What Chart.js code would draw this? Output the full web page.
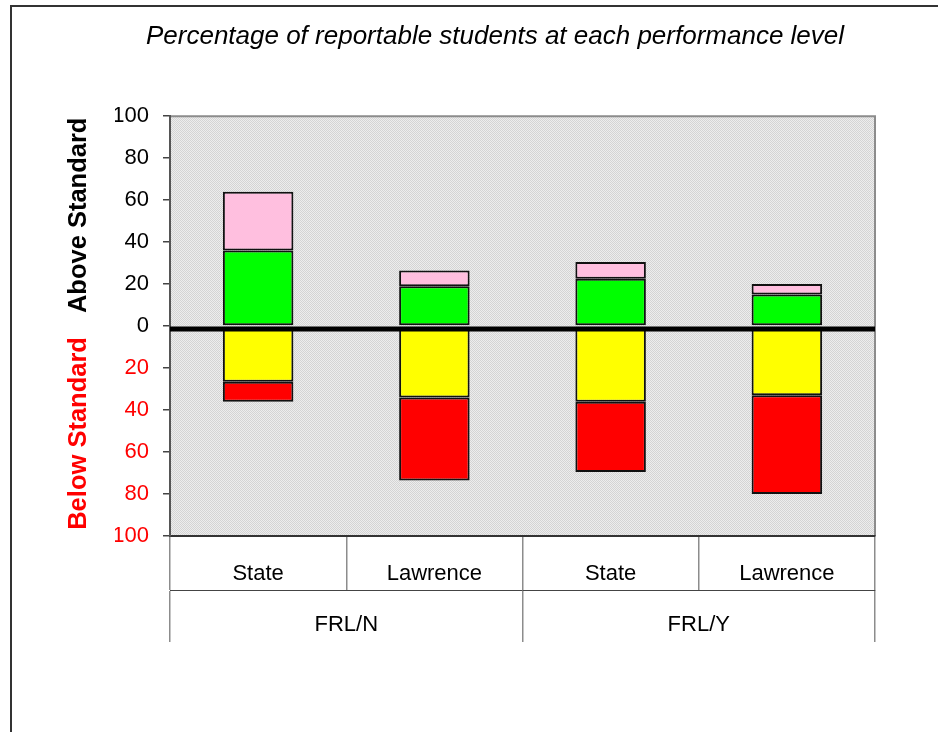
<!DOCTYPE html>
<html>
<head>
<meta charset="utf-8">
<script src="https://cdn.jsdelivr.net/npm/chart.js@4"></script>
<style>
  body { margin: 0; background: #fff; overflow: hidden; }
  #wrap { position: relative; width: 938px; height: 732px; }
  #frame { position: absolute; left: 10px; top: 5px; width: 960px; height: 760px; border: 2px solid #333; box-sizing: border-box; }
  canvas { position: absolute; left: 0; top: 0; }
</style>
</head>
<body>
<div id="wrap">
  <div id="frame"></div>
  <canvas id="chart" width="938" height="732"></canvas>
</div>
<script>
const categories = ['State', 'Lawrence', 'State', 'Lawrence'];
const groups = ['FRL/N', 'FRL/Y'];

// above standard (positive)
const proficient = [36, 19, 22.5, 15];
const advanced = [28, 7.5, 8, 5];
// below standard (negative)
const basic = [-26.5, -34, -36, -33];
const belowBasic = [-9.5, -39.5, -33.5, -47];

const FONT = '"Liberation Sans", Arial, sans-serif';

function makePattern(ctx) {
  const c = document.createElement('canvas');
  c.width = 2; c.height = 2;
  const p = c.getContext('2d');
  p.fillStyle = '#ededed';
  p.fillRect(0, 0, 2, 2);
  p.fillStyle = '#d4d4d4';
  p.fillRect(0, 0, 1, 1);
  p.fillRect(1, 1, 1, 1);
  return ctx.createPattern(c, 'repeat');
}

const plotArea = {
  id: 'plotArea',
  beforeDraw(chart) {
    const { ctx, chartArea: a } = chart;
    ctx.save();
    ctx.fillStyle = makePattern(ctx);
    ctx.fillRect(a.left, a.top, a.right - a.left, a.bottom - a.top);
    ctx.strokeStyle = '#8c8c8c';
    ctx.lineWidth = 2;
    ctx.beginPath();
    ctx.moveTo(a.left, a.top);
    ctx.lineTo(a.right, a.top);
    ctx.lineTo(a.right, a.bottom);
    ctx.stroke();
    ctx.restore();
  },
  afterDatasetsDraw(chart) {
    const { ctx, chartArea: a, scales } = chart;
    const y0 = scales.y.getPixelForValue(0) + 3;
    ctx.save();
    ctx.strokeStyle = '#000';
    ctx.lineWidth = 5;
    ctx.beginPath();
    ctx.moveTo(a.left, y0);
    ctx.lineTo(a.right, y0);
    ctx.stroke();
    ctx.restore();
  },
  afterDraw(chart) {
    // two-colour y axis title, split at zero
    const { ctx, scales } = chart;
    const y0 = scales.y.getPixelForValue(0);
    ctx.save();
    ctx.font = 'bold 25.5px ' + FONT;
    ctx.textBaseline = 'middle';
    ctx.translate(79, y0);
    ctx.rotate(-Math.PI / 2);
    ctx.fillStyle = '#000';
    ctx.textAlign = 'left';
    ctx.fillText('Above Standard', 13, 0);
    ctx.fillStyle = '#ff0000';
    ctx.textAlign = 'right';
    ctx.fillText('Below Standard', -11, 0);
    ctx.restore();
  }
};

new Chart(document.getElementById('chart'), {
  type: 'bar',
  data: {
    labels: categories,
    datasets: [
      { label: 'Proficient', data: proficient, backgroundColor: '#00ff00' },
      { label: 'Advanced', data: advanced, backgroundColor: '#ffbfdf' },
      { label: 'Basic', data: basic, backgroundColor: '#ffff00' },
      { label: 'Below Basic', data: belowBasic, backgroundColor: '#ff0000' }
    ].map(d => Object.assign(d, {
      borderColor: '#111',
      borderWidth: 2,
      borderSkipped: false,
      barPercentage: 0.4,
      categoryPercentage: 1
    }))
  },
  options: {
    responsive: false,
    animation: false,
    layout: { padding: { left: 115, right: 63, top: 21, bottom: 90 } },
    plugins: {
      legend: { display: false },
      tooltip: { enabled: false },
      title: {
        display: true,
        text: 'Percentage of reportable students at each performance level',
        color: '#000',
        font: { family: FONT, size: 26, style: 'italic', weight: 'normal' },
        padding: { top: 0, bottom: 64 }
      }
    },
    scales: {
      x: {
        stacked: true,
        position: 'bottom',
        grid: { offset: true, drawOnChartArea: false, tickLength: 54, color: '#8c8c8c', lineWidth: 1.5 },
        border: { color: '#333', width: 2 },
        ticks: { color: '#000', font: { family: FONT, size: 22 }, padding: -29, maxRotation: 0 },
        afterFit: s => { s.height = 54; }
      },
      x2: {
        type: 'category',
        labels: groups,
        position: 'bottom',
        grid: { offset: true, drawOnChartArea: false, tickLength: 52, color: '#8c8c8c', lineWidth: 1.5 },
        border: { color: '#444', width: 1 },
        ticks: { color: '#000', font: { family: FONT, size: 22 }, padding: -30, maxRotation: 0 },
        afterFit: s => { s.height = 52; }
      },
      y: {
        stacked: true,
        min: -100,
        max: 100,
        grid: { drawOnChartArea: false, tickLength: 7, color: '#444', lineWidth: 1.5 },
        border: { color: '#555', width: 2 },
        ticks: {
          stepSize: 20,
          padding: 14,
          font: { family: FONT, size: 22 },
          color: c => c.tick.value < 0 ? '#ff0000' : '#000',
          callback: v => Math.abs(v)
        },
        afterFit: s => { s.width = 55; }
      }
    }
  },
  plugins: [plotArea]
});
</script>
</body>
</html>
